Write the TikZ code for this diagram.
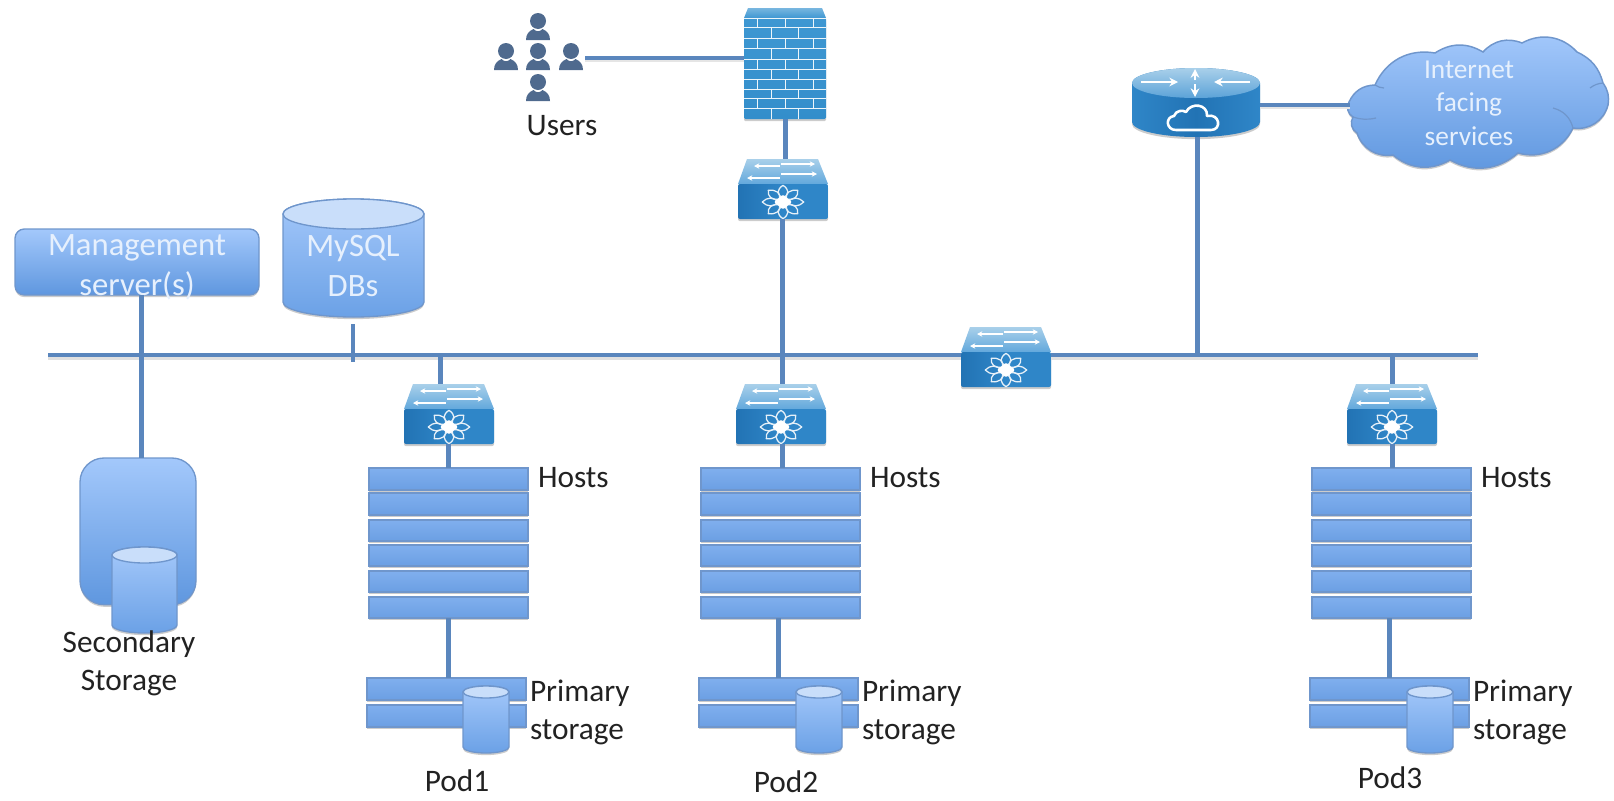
\documentclass[tikz,border=0pt]{standalone}
\usepackage{fontspec}
\setmainfont{Carlito}
\usetikzlibrary{shadows,arrows.meta}
\definecolor{wire}{HTML}{5A86BD}
\definecolor{edgeb}{HTML}{6F96CC}
\definecolor{boxtop}{HTML}{A3C8FB}
\definecolor{boxbot}{HTML}{5F97DF}
\definecolor{cyltop}{HTML}{A4C8FA}
\definecolor{cylbot}{HTML}{6BA1E6}
\definecolor{cylcap}{HTML}{C9DEFA}
\definecolor{barmid}{HTML}{9CC4FA}
\definecolor{bartop}{HTML}{80AFEE}
\definecolor{barbot}{HTML}{6B9FE3}
\definecolor{swtop}{HTML}{A9D0EA}
\definecolor{swtopb}{HTML}{62A8DC}
\definecolor{swa}{HTML}{2F86C8}
\definecolor{swb}{HTML}{2273B4}
\definecolor{fwa}{HTML}{3E97D2}
\definecolor{fwb}{HTML}{1B72B0}
\definecolor{fwc}{HTML}{338ECB}
\definecolor{person}{HTML}{4F6A8E}
\definecolor{ink}{HTML}{222222}
\definecolor{intext}{HTML}{E6F0FD}
\tikzset{
  x=0.75pt,y=-0.75pt,
  softshadow/.style={drop shadow={shadow xshift=0pt,shadow yshift=-1.6pt,opacity=.2,fill=black}},
  wirev/.style={draw=wire,line width=3.75pt},
  wireh/.style={draw=wire,line width=3.4pt,preaction={draw=black!12,line width=3pt,transform canvas={yshift=-2pt}}},
  wirethin/.style={draw=wire,line width=3pt,preaction={draw=black!10,line width=2.5pt,transform canvas={yshift=-2pt}}},
  holder/.style={inner sep=0pt,outer sep=0pt,anchor=north west},
  hostbar/.style={holder,draw=edgeb,line width=0.9pt,top color=bartop,middle color=barmid,bottom color=barbot,softshadow,minimum width=119.25pt},
  mainbox/.style={holder,draw=edgeb,line width=1pt,top color=boxtop,bottom color=boxbot,softshadow},
  lbl/.style={inner sep=0pt,outer sep=0pt,text=ink,font=\fontsize{23.5}{28.5}\selectfont},
  inlbl/.style={inner sep=0pt,outer sep=0pt,text=intext,align=center,font=\fontsize{24.5}{30}\selectfont},
  tinywhite/.style={draw=white,line width=.9pt,-{Stealth[length=4pt,width=4pt]}},
  bigwhite/.style={draw=white,line width=1.5pt,-{Stealth[length=6.5pt,width=6.5pt]}},
  brickline/.style={draw=white!90!fwa,line width=.65pt},
}
% cylinder: name, left, top, width, bottom, cap height
\newcommand{\cylnode}[6]{%
  \pgfmathsetmacro{\cylrx}{0.375*#4}\pgfmathsetmacro{\cylry}{0.375*#6}%
  \node[holder,minimum width={#4*0.75pt},minimum height={(#5-#2)*0.75pt}] (#1) at (#2,#3) {};
  \path[draw=edgeb,line width=1pt,top color=cyltop,bottom color=cylbot,softshadow]
    (#2,#3+#6/2) -- (#2,#5-#6/2) arc[start angle=180,end angle=360,x radius=\cylrx pt,y radius=\cylry pt]
    -- (#2+#4,#3+#6/2) arc[start angle=0,end angle=180,x radius=\cylrx pt,y radius=\cylry pt] -- cycle;
  \path[draw=edgeb,line width=1pt,fill=cylcap] (#2+#4/2,#3+#6/2) ellipse[x radius=\cylrx pt,y radius=\cylry pt];
}
% switch: name, left, top
\newcommand{\switchnode}[3]{%
  \node[holder,minimum width=67.5pt,minimum height=45pt] (#1) at (#2,#3) {};
  \begin{scope}[shift={(#2,#3)}]
    \path[top color=swtop,bottom color=swtopb] (9,0) -- (80,0) -- (90,25) -- (0,25) -- cycle;
    \path[rounded corners=1.5pt,left color=swb,right color=swa,middle color=swa,softshadow] (0,25) -- (90,25) -- (90,60) -- (0,60) -- cycle;
    \draw[tinywhite] (42,7) -- (16,7);
    \draw[tinywhite] (43,5) -- (77,5);
    \draw[tinywhite] (42,19) -- (9,19);
    \draw[tinywhite] (43,15) -- (79,15);
    \begin{scope}[shift={(45,43)},xscale=1.22,yscale=.98]
      \foreach \a in {0,45,...,315}{
        \draw[white!88!swa,line width=.95pt,rotate=\a,line join=round]
          (4,0) .. controls (8,-5.5) and (13,-5) .. (17,0) .. controls (13,5) and (8,5.5) .. (4,0) -- cycle;
      }
      \fill[white,rounded corners=1pt] (-7.5,0) -- (0,-7.5) -- (7.5,0) -- (0,7.5) -- cycle;
    \end{scope}
  \end{scope}
}
\newcommand{\personicon}[2]{%
  \fill[person] (#1,#2) circle[radius=6pt];
  \fill[person] (#1-12,#2+19) .. controls (#1-12,#2+13) and (#1-9,#2+10) .. (#1-4.5,#2+8)
     .. controls (#1-2,#2+11) and (#1+2,#2+11) .. (#1+4.5,#2+8)
     .. controls (#1+9,#2+10) and (#1+12,#2+13) .. (#1+12,#2+19) -- cycle;
}
\begin{document}
\begin{tikzpicture}
\useasboundingbox (0,0) rectangle (1614,800);
% ---------- upper left boxes
\node[mainbox,rounded corners=7pt,minimum width=183pt,minimum height=49.5pt] (mgmt) at (15,229) {};
\cylnode{mysql}{283}{199}{141}{317}{30}
\node[mainbox,rounded corners=18pt,minimum width=87pt,minimum height=110pt] (secbox) at (80,458) {};
\cylnode{seccyl}{112}{547}{65}{633}{16}
\node[inlbl] (mgmtlbl) at (137,267) {Management\\server(s)};
\node[inlbl] (mysqllbl) at (353,266.5) {MySQL\\DBs};
\node[lbl,align=center] (seclbl) at (129,663) {Secondary\\Storage};
% ---------- bus
\coordinate (busL) at (48,355);
\coordinate (busR) at (1478,355);
\switchnode{corsw}{961}{327}
\draw[wireh] (busL) -- (corsw.west |- busL);
\draw[wireh] (corsw.east |- busR) -- (busR);
\coordinate (tapM) at (141,355);
\draw[wirev] (mgmt.south -| tapM) -- (secbox.north -| tapM);
\coordinate (tapD) at (353,324);
\coordinate (tapDe) at (353,362);
\draw[wirev,line width=3.2pt] (tapD) -- (tapDe);
% ---------- pods
\foreach \n/\sw/\bx/\lx/\hl/\dx/\pl/\cl/\tl/\px/\py in
  {1/404/440/448/369/448/367/463/530/457/781,
   2/736/782/782/701/778/699/796/862/786/782,
   3/1347/1392/1392/1312/1389/1310/1407/1473/1390/778}{
  \switchnode{sw\n}{\sw}{384}
  \foreach \i/\yt/\yb in {1/468/490,2/493/515,3/520/541,4/545/566,5/571/592,6/597/618}{
    \node[hostbar,minimum height={(\yb-\yt)*0.75pt}] (h\n\i) at (\hl,\yt) {};
  }
  \node[hostbar,minimum height=16.5pt] (pa\n) at (\pl,678) {};
  \node[hostbar,minimum height=16.5pt] (pb\n) at (\pl,705) {};
  \cylnode{pc\n}{\cl}{686}{46}{753}{12}
  \coordinate (tapb\n) at (\bx,355);
  \coordinate (tapl\n) at (\lx,455);
  \coordinate (tapd\n) at (\dx,610);
  \draw[wirev] (tapb\n) -- (sw\n.north -| tapb\n);
  \draw[wirev] (sw\n.south -| tapl\n) -- (h\n1.north -| tapl\n);
  \draw[wirev] (tapd\n |- h\n6.south) -- (pa\n.north -| tapd\n);
  \node[lbl,anchor=west] (hl\n) at (\hl+169,478) {Hosts};
  \node[lbl,anchor=west,align=left] (pl\n) at (\tl,712) {Primary\\storage};
  \node[lbl] (pod\n) at (\px,\py) {Pod\n};
}
% ---------- upper centre: users, firewall, switch
\node[holder,minimum width=61.5pt,minimum height=83.25pt] (fw) at (744,8) {};
\path[top color=fwa!70!white,bottom color=fwa] (748,8) -- (822,8) -- (826,18) -- (744,18) -- cycle;
\path[rounded corners=1pt,top color=fwa,middle color=fwb,bottom color=fwc,softshadow] (744,18) -- (826,18) -- (826,119) -- (744,119) -- cycle;
\foreach \y in {18,27,38,48,59,69,79,89,98,108}{ \draw[brickline] (744,\y) -- (826,\y); }
\foreach \ya/\yb in {18/27,38/48,59/69,79/89,98/108}{
  \foreach \x in {757,785,813}{ \draw[brickline] (\x,\ya) -- (\x,\yb); }
}
\foreach \ya/\yb in {27/38,48/59,69/79,89/98,108/119}{
  \foreach \x in {771,798}{ \draw[brickline] (\x,\ya) -- (\x,\yb); }
}
\switchnode{swu}{738}{159}
\node[holder,minimum width=68.25pt,minimum height=66pt] (users) at (494,13) {};
\personicon{538}{21}
\personicon{506}{51}
\personicon{538}{51}
\personicon{571}{51}
\personicon{538}{82}
\node[lbl] (userslbl) at (562,126) {Users};
\coordinate (tapU) at (782,355);
\coordinate (fwdown) at (785,140);
\draw[wirethin] (users.east |- 0,57.5) -- (fw.west |- 0,57.5);
\draw[wirev] (fw.south -| fwdown) -- (swu.north -| fwdown);
\draw[wirev] (swu.south -| tapU) -- (tapU);
% ---------- router and cloud
\node[holder,minimum width=96pt,minimum height=51.75pt] (router) at (1132,68) {};
\path[left color=swa,right color=swa,middle color=swb,softshadow]
  (1132,83) -- (1132,122) arc[start angle=180,end angle=360,x radius=48pt,y radius=11.25pt]
  -- (1260,83) arc[start angle=0,end angle=180,x radius=48pt,y radius=11.25pt] -- cycle;
\path[top color=swtop,bottom color=swtopb!90!swb] (1196,83) ellipse[x radius=48pt,y radius=11.25pt];
\draw[bigwhite,line width=1pt] (1141,82) -- (1178,82);
\draw[bigwhite,line width=1pt] (1250,82) -- (1214,82);
\draw[bigwhite] (1195,80) -- (1195,69);
\draw[bigwhite] (1195,84) -- (1195,97);
\draw[white,line width=1.9pt,line join=round]
  (1176,130) .. controls (1166,130) and (1165,117) .. (1174,116)
  .. controls (1176,110) and (1183,110) .. (1186,112)
  .. controls (1191,102) and (1208,104) .. (1207,116)
  .. controls (1220,113) and (1222,130) .. (1211,130) -- cycle;
\path[draw=edgeb,line width=1.1pt,top color=boxtop,bottom color=boxbot,softshadow]
  (1349,102) to[bend left=32] (1375,85) to[bend left=38] (1435,53) to[bend left=32] (1483,52)
  to[bend left=35] (1522,43) to[bend left=38] (1577,52) to[bend left=25] (1603,83)
  to[bend left=22] (1608,105) to[bend left=42] (1573,128) to[bend left=40] (1518,153)
  to[bend left=35] (1450,160) to[bend left=35] (1393,155) to[bend left=40] (1357,133)
  to[bend left=45] (1353,117) to[bend left=45] (1349,102) -- cycle;
\draw[edgeb,line width=.9pt] (1353,117) to[bend right=15] (1376,118);
\draw[edgeb,line width=.9pt] (1375,85) to[bend right=15] (1384,88);
\draw[edgeb,line width=.9pt] (1553,108) to[bend left=30] (1573,128);
\draw[edgeb,line width=.9pt] (1590,88) to[bend left=15] (1603,83);
\node[inlbl,font=\fontsize{20.5}{25}\selectfont] (cloudlbl) at (1469,103) {Internet\\facing\\services};
\coordinate (tapR) at (1197,355);
\draw[wirev] (router.south -| tapR) -- (tapR);
\coordinate (rtright) at (1260,105);
\coordinate (cloudleft) at (1350,105);
\draw[wirethin] (rtright) -- (cloudleft);
\end{tikzpicture}
\end{document}
